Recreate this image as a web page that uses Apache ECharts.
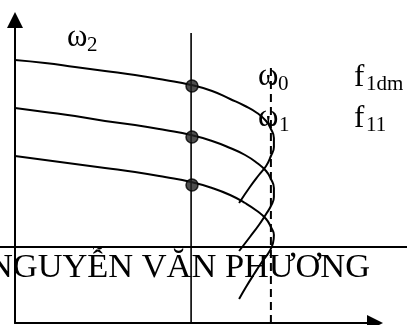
<!DOCTYPE html>
<html>
<head>
<meta charset="utf-8">
<script src="https://cdn.jsdelivr.net/npm/echarts@6/dist/echarts.min.js"></script>
<style>
  html, body { margin: 0; padding: 0; background: #fff; }
  #chart { width: 407px; height: 325px; }
</style>
</head>
<body>
<div id="chart"></div>
<script>
// Mechanical characteristics ω(M): torque M on x, speed ω on y (arbitrary units)
const torqueUpper = [0, 10, 20, 30, 40, 50, 58.7, 65.7, 71.7, 76.7, 80.7, 83.7, 85.3, 86.3, 86.3, 85.3, 83.7, 81.3, 78.3, 74.7];
const curveTopW = [131.5, 130, 128, 126, 124, 121.5, 119, 116, 112, 108.5, 105, 101, 97, 92.5, 88, 83.5, 78.5, 74, 68, 60];
const curveMidW = [107.5, 105.5, 103.5, 101, 99, 96.5, 94, 91, 87.5, 84, 80, 76, 72, 67.5, 63, 58.5, 54.5, 49, 43, 36];

const torqueLower = [0, 10, 20, 30, 40, 50, 58.7, 65.7, 71.7, 76.7, 80.7, 83.7, 85.3, 86.3, 86, 84.7, 82.3, 79.7, 77, 74.7];
const curveLowW = [83.5, 81.5, 79.5, 77.5, 75.5, 73, 70.5, 67.5, 64, 60, 56, 52, 48, 44, 40, 35.5, 30.5, 24.5, 18, 12];

// Operating points on the load line
const loadTorque = 59;
const operatingW = [118.5, 93, 69];

// Load line and critical-torque line
const loadLineM = 58.7;
const loadLineTop = 145;
const criticalM = 85.3;
const criticalTop = 130;

const axisMaxM = 120;
const axisMaxW = 151.5;

const serif = '"Liberation Serif", "Times New Roman", serif';

function pairs(xs, ys) { return xs.map((v, i) => [v, ys[i]]); }

const chart = echarts.init(document.getElementById('chart'), null, { renderer: 'canvas' });

const curveStyle = { color: '#000', width: 2 };

function label(x, baseline, text, size) {
  return {
    type: 'text',
    x: x,
    y: baseline - 0.305 * size,
    style: {
      text: text,
      font: size + 'px ' + serif,
      fill: '#000',
      align: 'left',
      verticalAlign: 'middle'
    },
    z: 10
  };
}

const axisLineStyle = {
  show: true, onZero: false,
  symbol: ['none', 'triangle'], symbolSize: [16, 16],
  lineStyle: { color: '#000', width: 2 }
};

chart.setOption({
  animation: false,
  backgroundColor: '#fff',
  grid: { left: 15, right: 32, top: 20, bottom: 2, containLabel: false },
  xAxis: {
    type: 'value', min: 0, max: axisMaxM,
    axisLine: axisLineStyle,
    axisTick: { show: false }, axisLabel: { show: false }, splitLine: { show: false }
  },
  yAxis: {
    type: 'value', min: 0, max: axisMaxW,
    axisLine: axisLineStyle,
    axisTick: { show: false }, axisLabel: { show: false }, splitLine: { show: false }
  },
  series: [
    { type: 'line', data: pairs(torqueUpper, curveTopW), smooth: 0.5, showSymbol: false, lineStyle: curveStyle },
    { type: 'line', data: pairs(torqueUpper, curveMidW), smooth: 0.5, showSymbol: false, lineStyle: curveStyle },
    { type: 'line', data: pairs(torqueLower, curveLowW), smooth: 0.5, showSymbol: false, lineStyle: curveStyle },
    { type: 'line', data: [[loadLineM, 0], [loadLineM, loadLineTop]], showSymbol: false,
      lineStyle: { color: '#000', width: 1.6 } },
    { type: 'line', data: [[criticalM, 0], [criticalM, criticalTop]], showSymbol: false,
      lineStyle: { color: '#000', width: 2, type: [8, 5] } },
    { type: 'scatter', data: operatingW.map(w => [loadTorque, w]), symbolSize: 12,
      itemStyle: { color: '#222', borderColor: '#000', borderWidth: 1.5 }, z: 5 }
  ],
  graphic: [
    { type: 'line', shape: { x1: 0, y1: 247, x2: 407, y2: 247 }, style: { stroke: '#000', lineWidth: 2 }, z: 8 },
    label(-12, 278, 'NGUYỄN VĂN PHƯƠNG', 34.4),
    label(67, 47, 'ω', 31), label(87, 52, '2', 21),
    label(258, 86, 'ω', 31), label(278, 91, '0', 21),
    label(258, 127, 'ω', 31), label(279, 132, '1', 21),
    label(354, 87, 'f', 31), label(366, 91, '1dm', 21),
    label(354, 128, 'f', 31), label(366, 132, '11', 21)
  ]
});
</script>
</body>
</html>
